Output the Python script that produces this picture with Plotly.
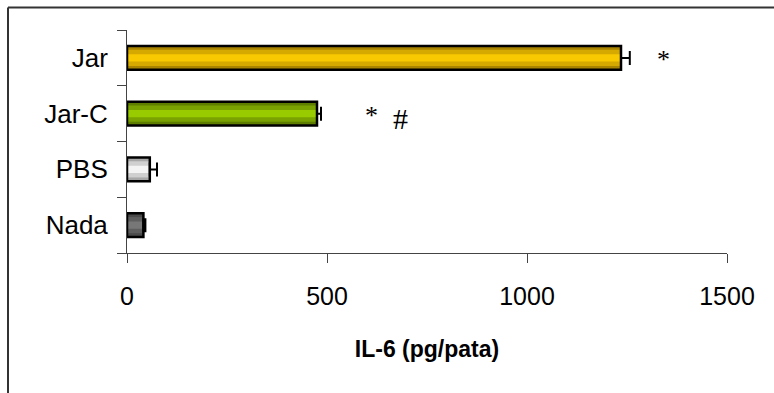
import plotly.graph_objects as go

categories = ["Nada", "PBS", "Jar-C", "Jar"]
values = [41, 57, 475, 1235]
errors = [5, 18, 10, 22]
x_ticks = [0, 500, 1000, 1500]

outer_colors = ["#4a4a4a", "#a8a8a8", "#5e7e00", "#a88400"]
mid_colors = ["#5e5e5e", "#d0d0d0", "#7aa200", "#d6a900"]
inner_colors = ["#777777", "#f4f4f4", "#99cc00", "#f8c800"]

W, H = 774, 393
L, R, T, B = 127, 727, 30, 252.7

fig = go.Figure()
for cols, w in [(outer_colors, 0.43), (mid_colors, 0.29), (inner_colors, 0.13)]:
    fig.add_trace(go.Bar(
        y=categories, x=values, orientation="h", width=w,
        marker=dict(color=cols, line=dict(width=0)),
        hoverinfo="skip", showlegend=False))
fig.add_trace(go.Bar(
    y=categories, x=values, orientation="h", width=0.43,
    marker=dict(color="rgba(0,0,0,0)", line=dict(color="black", width=2.5)),
    error_x=dict(type="data", symmetric=False, array=errors,
                 arrayminus=[0] * len(errors), color="black",
                 thickness=2, width=7),
    showlegend=False))

def px2x(px):
    return (px - L) / (R - L)

def py2y(py):
    return (B - py) / (B - T)

shapes = [
    dict(type="line", xref="paper", yref="paper", x0=px2x(8), x1=px2x(774),
         y0=py2y(7.5), y1=py2y(7.5), line=dict(color="#333333", width=2)),
    dict(type="line", xref="paper", yref="paper", x0=px2x(8), x1=px2x(8),
         y0=py2y(7.5), y1=py2y(395), line=dict(color="#333333", width=2)),
]

star_font = dict(family="Liberation Serif", size=26, color="black")
hash_font = dict(family="Liberation Serif", size=30, color="black")
annotations = [
    dict(x=1340, y="Jar", text="*", showarrow=False, font=star_font, yshift=-2),
    dict(x=612, y="Jar-C", text="*", showarrow=False, font=star_font, yshift=-2),
    dict(x=684, y="Jar-C", text="#", showarrow=False, font=hash_font, yshift=-5),
]

fig.update_layout(
    width=W, height=H,
    margin=dict(l=L, r=W - R, t=T, b=H - B, pad=0),
    paper_bgcolor="white", plot_bgcolor="white",
    barmode="overlay",
    font=dict(family="Liberation Sans", color="black"),
    shapes=shapes, annotations=annotations,
    xaxis=dict(range=[0, 1500], tickvals=x_ticks, ticktext=[str(v) for v in x_ticks],
               showgrid=False, zeroline=False, showline=True, linecolor="#444444",
               linewidth=1, ticks="outside", ticklen=9, tickcolor="#444444",
               tickfont=dict(size=25), ticklabelstandoff=12,
               title=dict(text="<b>IL-6 (pg/pata)</b>", font=dict(size=23), standoff=31)),
    yaxis=dict(categoryorder="array", categoryarray=categories,
               showgrid=False, zeroline=False, showline=True, linecolor="#444444",
               linewidth=1, ticks="outside", ticklen=9, tickcolor="#444444",
               tickson="boundaries", tickfont=dict(size=26), ticklabelstandoff=13),
)

fig.write_html("out.html")
